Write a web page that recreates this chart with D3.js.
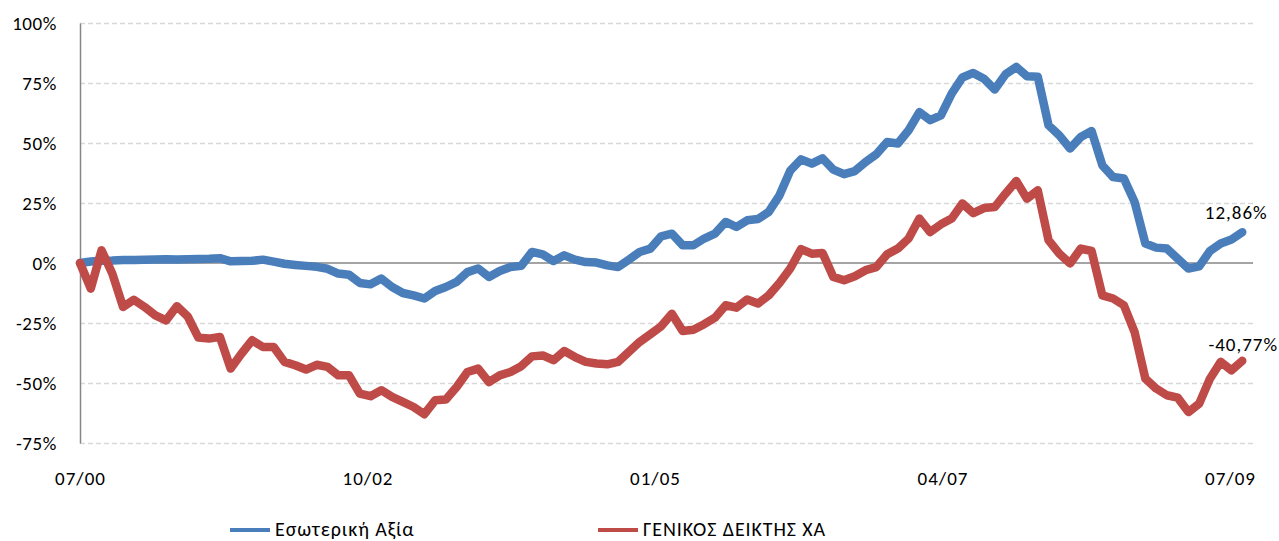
<!DOCTYPE html>
<html>
<head>
<meta charset="utf-8">
<script src="https://cdn.jsdelivr.net/npm/d3@7"></script>
<style>
  body { margin: 0; background: #fff; }
  svg { display: block; font-family: Carlito, Lato, sans-serif; }
</style>
</head>
<body>
<div id="container_chart"></div>
<script>
// months from 07/00 to 07/09
const months = d3.timeMonth.range(new Date(2000, 6, 1), new Date(2009, 7, 1));
const tickLabels = ['07/00', '10/02', '01/05', '04/07', '07/09'];
const yTicks = [-75, -50, -25, 0, 25, 50, 75, 100];

const seriesNames = ['Εσωτερική Αξία', 'ΓΕΝΙΚΟΣ ΔΕΙΚΤΗΣ ΧΑ'];
const seriesColors = ['#4a7ebb', '#be4b48'];

const esoteriki = [
  0, 0.6, 0.9, 1.0, 1.2, 1.3, 1.4, 1.5, 1.6, 1.5,
  1.6, 1.7, 1.8, 2.0, 0.7, 0.8, 0.9, 1.4, 0.6, -0.3,
  -0.8, -1.2, -1.6, -2.4, -4.4, -4.9, -8.3, -8.9, -6.5, -10.0,
  -12.5, -13.5, -14.8, -11.7, -10.0, -7.9, -3.8, -2.3, -5.8, -3.3,
  -1.7, -1.2, 4.6, 3.6, 0.8, 3.2, 1.4, 0.4, 0.2, -1.0,
  -1.7, 1.4, 4.6, 6.0, 11.1, 12.2, 7.4, 7.4, 10.2, 12.2,
  17.1, 15.0, 17.8, 18.3, 21.3, 28.2, 38.5, 43.2, 41.4, 43.6,
  38.9, 37.0, 38.3, 42.1, 45.3, 50.4, 49.8, 55.3, 62.9, 59.5,
  61.5, 70.6, 77.3, 79.2, 76.8, 72.3, 78.6, 81.7, 77.8, 77.6,
  57.4, 53.2, 47.7, 52.5, 55.0, 40.7, 35.8, 35.2, 25.4, 8.1,
  6.4, 6.0, 1.8, -2.3, -1.4, 5.0, 8.1, 9.8, 12.86
];

const geniko = [
  0, -10.7, 5.3, -4.4, -18.3, -15.3, -18.3, -21.8, -23.9, -18.0,
  -22.2, -31.1, -31.5, -30.8, -44.0, -37.8, -32.2, -35.0, -35.0, -41.2,
  -42.6, -44.4, -42.4, -43.3, -46.8, -46.8, -54.4, -55.5, -53.0, -55.8,
  -57.9, -60.0, -63.0, -57.2, -56.9, -51.7, -45.4, -44.0, -49.6, -46.8,
  -45.4, -43.0, -38.9, -38.5, -40.5, -36.7, -39.2, -41.2, -41.9, -42.2,
  -41.2, -37.0, -32.9, -29.7, -26.4, -21.1, -28.3, -27.8, -25.5, -22.8,
  -17.6, -18.6, -15.2, -16.9, -13.5, -8.3, -2.3, 5.8, 3.9, 4.2,
  -5.8, -7.2, -5.5, -3.0, -1.7, 3.6, 6.0, 10.2, 18.5, 12.9,
  16.1, 18.5, 24.8, 20.8, 22.9, 23.3, 28.9, 34.2, 26.8, 30.3,
  9.5, 3.9, -0.2, 6.0, 5.0, -13.5, -14.8, -17.6, -28.8, -48.2,
  -52.3, -55.1, -56.1, -62.1, -58.6, -48.2, -41.2, -44.7, -40.77
];

const endLabels = ['12,86%', '-40,77%'];

const width = 1279, height = 541;
const plotLeft = 80, plotRight = 1253, plotTop = 23, plotBottom = 443;

const svg = d3.select('#container_chart')
  .append('svg')
  .attr('id', 'svg_chart')
  .attr('width', width)
  .attr('height', height);

svg.append('rect').attr('width', width).attr('height', height).attr('fill', '#fff');

const x = d3.scaleLinear().domain([0, months.length]).range([plotLeft, plotRight]);
const y = d3.scaleLinear().domain([-75, 100]).range([plotBottom, plotTop]);

// dashed gridlines
svg.append('g')
  .attr('transform', `translate(${plotLeft},0)`)
  .call(d3.axisRight(y).tickValues(yTicks.filter(d => d !== 0)).tickSize(plotRight - plotLeft).tickFormat(''))
  .call(g => g.select('.domain').remove())
  .call(g => g.selectAll('line')
    .attr('stroke', '#d9d9d9')
    .attr('stroke-width', 1.3)
    .attr('stroke-dasharray', '5,3'));

// zero line
svg.append('line')
  .attr('x1', plotLeft).attr('x2', plotRight)
  .attr('y1', y(0)).attr('y2', y(0))
  .attr('stroke', '#868686')
  .attr('stroke-width', 1.5);

// y axis
svg.append('g')
  .attr('transform', `translate(${plotLeft},0)`)
  .call(d3.axisLeft(y).tickValues(yTicks).tickSize(0).tickPadding(23).tickFormat(d => d + '%'))
  .call(g => g.select('.domain').attr('stroke', '#868686').attr('stroke-width', 1.5))
  .call(g => g.selectAll('text')
    .attr('fill', '#000')
    .style('font-family', 'Carlito, Lato, sans-serif')
    .style('font-size', '19px')
    .style('letter-spacing', '0.6px'));

// x labels
const xLabel = d3.scalePoint().domain(tickLabels).range([80, 1230]);
svg.append('g')
  .attr('transform', `translate(0,${plotBottom})`)
  .call(d3.axisBottom(xLabel).tickSize(0).tickPadding(29))
  .call(g => g.select('.domain').remove())
  .call(g => g.selectAll('text')
    .attr('fill', '#000')
    .style('font-family', 'Carlito, Lato, sans-serif')
    .style('font-size', '19px')
    .style('letter-spacing', '1px'));

const line = d3.line()
  .x((d, i) => x(i))
  .y(d => y(d));

[esoteriki, geniko].forEach((values, k) => {
  svg.append('path')
    .datum(values)
    .attr('fill', 'none')
    .attr('stroke', seriesColors[k])
    .attr('stroke-width', 8.5)
    .attr('stroke-linejoin', 'round')
    .attr('stroke-linecap', 'round')
    .attr('d', line);
});

// end labels
const endDx = [-6, 1];
const endDy = [-13, -10];
[esoteriki, geniko].forEach((values, k) => {
  const last = values.length - 1;
  svg.append('text')
    .attr('x', x(last) + endDx[k])
    .attr('y', y(values[last]) + endDy[k])
    .attr('text-anchor', 'middle')
    .style('font-size', '19px')
    .style('letter-spacing', '1px')
    .text(endLabels[k]);
});

// legend
const legendX = [230, 598];
seriesNames.forEach((name, k) => {
  const g = svg.append('g').attr('transform', `translate(${legendX[k]},530)`);
  g.append('line')
    .attr('x1', 0).attr('x2', 40)
    .attr('stroke', seriesColors[k])
    .attr('stroke-width', 4);
  g.append('text')
    .attr('x', 45)
    .attr('y', 6)
    .style('font-size', '20px')
    .style('letter-spacing', '0.9px')
    .text(name);
});
</script>
</body>
</html>
